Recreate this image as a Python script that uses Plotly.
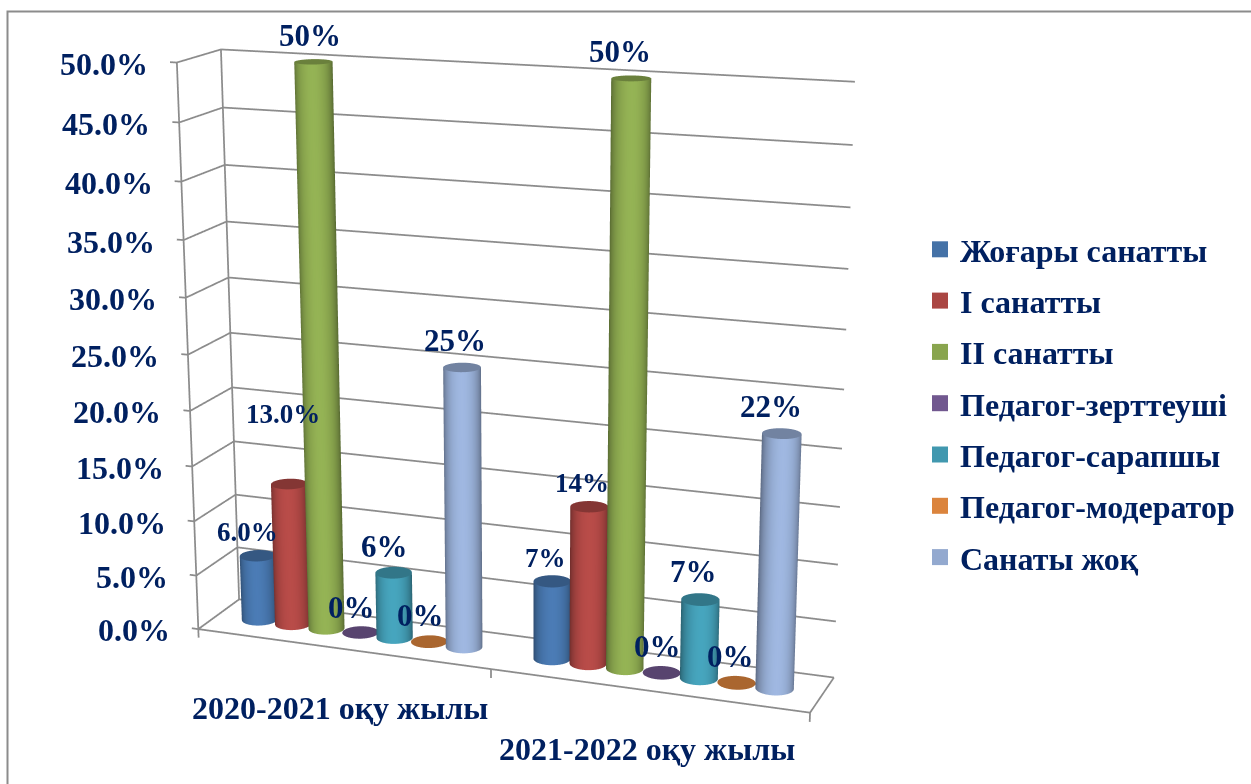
import numpy as np
import plotly.graph_objects as go

categories = ["2020-2021 оқу жылы", "2021-2022 оқу жылы"]
series = ["Жоғары санатты", "I санатты", "II санатты", "Педагог-зерттеуші", "Педагог-сарапшы", "Педагог-модератор", "Санаты жоқ"]
colors = ["#4572A7", "#AA4643", "#89A54E", "#71588F", "#4198AF", "#DB843D", "#93A9CF"]
values_2021 = [0.06, 0.13, 0.50, 0.0, 0.06, 0.0, 0.25]
values_2122 = [0.07, 0.14, 0.50, 0.0, 0.07, 0.0, 0.22]
labels_2021 = ["6.0%", "13.0%", "50%", "0%", "6%", "0%", "25%"]
labels_2122 = ["7%", "14%", "50%", "0%", "7%", "0%", "22%"]
z_ticks = [0, .05, .10, .15, .20, .25, .30, .35, .40, .45, .50]

W, H = 1251, 784
FK = (1/np.tan(np.pi/8))*H/2

# Calibration of the 3D box: box corner (category, depth, value) -> where it sits in the page
cal_world = np.array([[0,0,0],[2,0,0],[2,1,0],[0,1,0],[0,0,.5],[0,1,.5],[2,1,.5],[0,0,.45],[0,0,.4],[0,0,.35],
                      [0,1,.45],[0,1,.4],[0,1,.35],[2,1,.45],[0,0,.05],[0,1,.05],[1,0,0]], float)
cal_page = np.array([[198,628],[810,712],[834,676],[241,600],[176.7,62.3],[220.7,50],[855,82],[179.3,123.3],[181.5,181.7],
                     [184.3,239],[222.7,107.3],[224.7,165],[226,221],[853,145],[196.7,574],[236,548],[490,673]], float)

def dlt(w, p):
    wm, ws = w.mean(0), w.std(0)
    pm, ps = p.mean(0), p.std(0).mean()
    Tw = np.diag([1/ws[0], 1/ws[1], 1/ws[2], 1.0]); Tw[:3, 3] = -wm/ws
    Tp = np.diag([1/ps, 1/ps, 1.0]); Tp[:2, 2] = -pm/ps
    wn = (w-wm)/ws; pn = (p-pm)/ps
    rows = []
    for (a, b, c), (u, v) in zip(wn, pn):
        rows.append([a, b, c, 1, 0, 0, 0, 0, -u*a, -u*b, -u*c, -u])
        rows.append([0, 0, 0, 0, a, b, c, 1, -v*a, -v*b, -v*c, -v])
    M = np.linalg.svd(np.array(rows))[2][-1].reshape(3, 4)
    return np.linalg.inv(Tp)@M@Tw

P = dlt(cal_world, cal_page)
if (P@np.array([1, .5, .25, 1]))[2] < 0:
    P = -P
K = np.array([[FK, 0, W/2], [0, -FK, H/2], [0, 0, 1.0]])
Q = np.linalg.inv(K)@P
Q[2] *= -1                              # camera looks along -z
Q = Q/np.linalg.norm(Q[:3, 0])
L, q4 = Q[:3, :3], Q[:3, 3]
Rv, G = np.linalg.qr(L)
sg = np.sign(np.diag(G)); Rv = Rv*sg; G = (G.T*sg).T
Dscale = np.diag(G)
Dg = G/Dscale[:, None]

def to_scene(x, y, z):
    x, y, z = np.asarray(x, float), np.asarray(y, float), np.asarray(z, float)
    return (x*Dg[0, 0]+y*Dg[0, 1]+z*Dg[0, 2], y*Dg[1, 1]+z*Dg[1, 2], z)

def page(x, y, z):
    h = P@np.array([x, y, z, 1.0])
    return h[:2]/h[2]

corners = np.array([[a, b, c] for a in (-0.06, 2.03) for b in (-0.02, 1.0) for c in (-0.035, 0.52)])
cs = np.array(to_scene(corners[:, 0], corners[:, 1], corners[:, 2])).T
lo, hi = cs.min(0)-0.02, cs.max(0)+0.02
lo[2], hi[2] = -0.035, 0.52
mid = (lo+hi)/2
ASPECT = Dscale*(hi-lo)
EYE = -(Dscale*mid)-Rv.T@q4
FWD = -Rv[2]
UP = Rv[1]
CENTER = EYE+FWD*np.linalg.norm(EYE)

RX_PX, RY_PX = 18.5, 6.5
Jac = np.c_[page(1.1, .5, 0)-page(1.0, .5, 0), page(1.0, .6, 0)-page(1.0, .5, 0)]/0.1
Jinv = np.linalg.inv(Jac)

def bar_mesh(xc, yc, h, color, name):
    n = 64
    col = np.array([int(color[i:i+2], 16) for i in (1, 3, 5)], float)
    th = np.linspace(0, 2*np.pi, n, endpoint=False)
    off = Jinv@np.vstack([RX_PX*np.cos(th), RY_PX*np.sin(th)])
    ex = xc+off[0]; ey = yc+off[1]
    fac = 0.62+0.47*(1-np.cos(th)**2)**0.6
    def c(f):
        return "rgb(%d,%d,%d)" % tuple(np.clip(col*f, 0, 255))
    wx, wy, wz, vc, i, j, k = [], [], [], [], [], [], []
    if h > 0:
        for q in range(n):
            wx += [ex[q], ex[q]]; wy += [ey[q], ey[q]]; wz += [0, h]; vc += [c(fac[q]), c(fac[q])]
            a, b, c2, d = 2*q, 2*q+1, 2*((q+1) % n), 2*((q+1) % n)+1
            i += [a, b]; j += [c2, c2]; k += [b, d]
    base = len(wx)
    top = max(h, 0.0005)
    capf = 0.78
    wx += [xc]; wy += [yc]; wz += [top]; vc += [c(capf)]
    for q in range(n):
        wx.append(ex[q]); wy.append(ey[q]); wz.append(top); vc.append(c(capf))
        i.append(base); j.append(base+1+q); k.append(base+1+(q+1) % n)
    sx, sy, sz = to_scene(wx, wy, wz)
    return go.Mesh3d(x=sx, y=sy, z=sz, i=i, j=j, k=k, vertexcolor=vc, name=name, legendgroup=name, showlegend=False,
                     flatshading=False, hoverinfo="skip", showscale=False,
                     lighting=dict(ambient=1, diffuse=0, specular=0, fresnel=0, roughness=1))

fig = go.Figure()
GRID = "#8c8c8c"
gx, gy, gz = [], [], []
for z in z_ticks:
    gx += [-0.023, 0, 0, 2, None]; gy += [0, 0, 1, 1, None]; gz += [z, z, z, z, None]
gx += [0, 0, None, 0, 2, 2, None, 2, 2, None, 1, 1, None, 0, 0, None]
gy += [0, 0, None, 0, 0, 1, None, 0, 0, None, 0, 0, None, 1, 1, None]
gz += [-0.008, .5, None, 0, 0, 0, None, 0, -0.008, None, 0, -0.008, None, 0, .5, None]
gxa, gya, gza = [np.array([np.nan if t is None else t for t in a], float) for a in (gx, gy, gz)]
sx, sy, sz = to_scene(gxa, gya, gza)
fig.add_trace(go.Scatter3d(x=sx, y=sy, z=sz, mode="lines", line=dict(color=GRID, width=3.5), hoverinfo="skip", showlegend=False))

SP = 0.118
def bar_x(g, b):
    return g+0.5+(b-3)*SP
for g, vals in enumerate([values_2021, values_2122]):
    for b, v in enumerate(vals):
        fig.add_trace(bar_mesh(bar_x(g, b), 0.5, v, colors[b], series[b]))
for s, col in zip(series, colors):
    fig.add_trace(go.Scatter(x=[None], y=[None], mode="markers", name=s, legendgroup=s,
                             marker=dict(symbol="square", size=16, color=col), hoverinfo="skip"))

NAVY = "#002060"
ann = []
def anno(x, y, z, text, px, size, **kw):
    sx, sy, sz = to_scene(x, y, z)
    pg = page(x, y, z)
    d = dict(x=float(sx), y=float(sy), z=float(sz), text="<b>%s</b>" % text, showarrow=False, xanchor="center", yanchor="middle",
             xshift=float(px[0]-pg[0]), yshift=float(pg[1]-px[1]), font=dict(family="Liberation Serif", size=size, color=NAVY))
    d.update(kw)
    return d

for z in z_ticks:
    pg = page(-0.023, 0, z)
    ann.append(anno(-0.023, 0, z, "%.1f%%" % (z*100), (pg[0]-20, pg[1]+2), 32, xanchor="right"))
label_pos = [[(248, 532), (283, 414), (310, 36), (352, 608), (385, 547), (421, 616), (455, 341)],
             [(545, 558), (582, 483), (620, 52), (657, 647), (693, 572), (731, 657), (771, 407)]]
label_size = [[27, 27, 31, 31, 31, 31, 31], [27, 27, 31, 31, 31, 31, 31]]
for g, labs in enumerate([labels_2021, labels_2122]):
    vals = [values_2021, values_2122][g]
    for b, t in enumerate(labs):
        ann.append(anno(bar_x(g, b), 0.5, vals[b], t, label_pos[g][b], label_size[g][b]))
ann.append(anno(0.5, 0, 0, categories[0], (340, 708), 32))
ann.append(anno(1.5, 0, 0, categories[1], (647, 749), 32))

hidden = dict(visible=False, showbackground=False, showgrid=False, zeroline=False, showticklabels=False, showspikes=False, title="")
fig.update_layout(
    width=W, height=H, margin=dict(l=0, r=0, t=0, b=0), paper_bgcolor="white", plot_bgcolor="rgba(0,0,0,0)",
    xaxis=dict(visible=False), yaxis=dict(visible=False),
    scene=dict(domain=dict(x=[0, 1], y=[0, 1]), bgcolor="rgba(0,0,0,0)", aspectmode="manual",
               aspectratio=dict(x=float(ASPECT[0]), y=float(ASPECT[1]), z=float(ASPECT[2])),
               camera=dict(eye=dict(x=float(EYE[0]), y=float(EYE[1]), z=float(EYE[2])),
                           center=dict(x=float(CENTER[0]), y=float(CENTER[1]), z=float(CENTER[2])),
                           up=dict(x=float(UP[0]), y=float(UP[1]), z=float(UP[2])), projection=dict(type="perspective")),
               xaxis=dict(range=[float(lo[0]), float(hi[0])], **hidden), yaxis=dict(range=[float(lo[1]), float(hi[1])], **hidden),
               zaxis=dict(range=[float(lo[2]), float(hi[2])], **hidden),
               annotations=ann),
    legend=dict(x=920/W, y=1-(222/H), xanchor="left", yanchor="top", tracegroupgap=6.7, bgcolor="rgba(0,0,0,0)",
                font=dict(family="Liberation Serif", size=32, color=NAVY, weight="bold")),
    shapes=[dict(type="rect", xref="paper", yref="paper", x0=7.5/W, x1=1.1, y0=1-11.5/H, y1=-0.1, line=dict(color="#8c8c8c", width=2))],
)
fig.write_html("out.html", config=dict(displayModeBar=False), post_script="document.body.style.margin='0';document.body.style.overflow='hidden';")
